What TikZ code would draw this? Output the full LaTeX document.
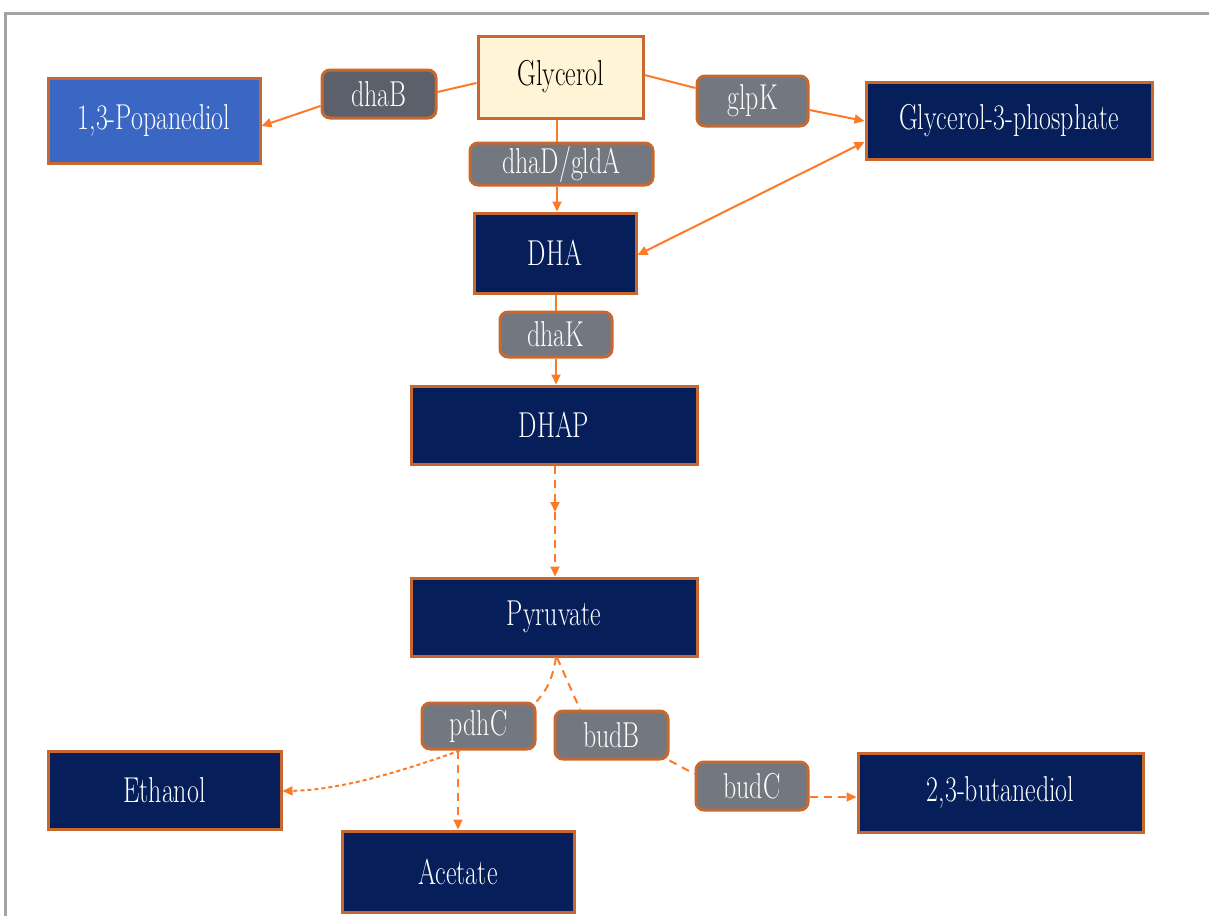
\documentclass[tikz,border=0pt]{standalone}
\usepackage{graphicx}
\usetikzlibrary{arrows.meta}
\definecolor{navybox}{HTML}{061F5B}
\definecolor{bluebox}{HTML}{3A67C4}
\definecolor{creambox}{HTML}{FFF5D6}
\definecolor{graybox}{HTML}{737880}
\definecolor{darkgraybox}{HTML}{5B606B}
\definecolor{boxedge}{HTML}{C8682E}
\definecolor{flow}{HTML}{FF7A26}
\definecolor{frameg}{HTML}{A4A4A4}
\newcommand{\sq}[1]{\scalebox{0.72}[1]{#1}}
\tikzset{
  base/.style={draw=boxedge, line width=1.5pt, inner sep=0pt, font=\fontsize{18}{21}\selectfont, text=white},
  navy/.style={base, fill=navybox},
  bluen/.style={base, fill=bluebox},
  cream/.style={base, fill=creambox, text=black},
  enz/.style={base, fill=graybox, rounded corners=4pt},
  denz/.style={base, fill=darkgraybox, rounded corners=4pt},
  flowline/.style={draw=flow, line width=1pt},
  tip/.style={-{Triangle[length=5pt,width=4.5pt]}},
  dflow/.style={flowline, dash pattern=on 4pt off 3pt},
  dotflow/.style={flowline, dash pattern=on 2pt off 1.5pt},
}
\begin{document}
\begin{tikzpicture}[x=0.5pt,y=-0.5pt]
\useasboundingbox (0,0) rectangle (1209,916);
\draw[frameg, line width=1.5pt] (5,916) -- (5,13) -- (1209,13);
% nodes
\node[cream, minimum width=82.5pt, minimum height=41pt] (gly) at (560.5,77) {\sq{Glycerol}};
\node[denz, minimum width=57pt, minimum height=24pt] (dhaB) at (379,94) {\sq{dhaB}};
\node[bluen, minimum width=106pt, minimum height=42.5pt] (pop) at (154,120.5) {\sq{1,3-Popanediol}};
\node[enz, minimum width=55.5pt, minimum height=25pt] (glpK) at (752.5,101) {\sq{glpK}};
\node[navy, minimum width=143pt, minimum height=38.5pt] (g3p) at (1009,120.5) {\sq{Glycerol-3-phosphate}};
\node[enz, minimum width=91.5pt, minimum height=21pt] (dhaD) at (561.5,164) {\sq{dhaD/gldA}};
\node[navy, minimum width=81pt, minimum height=40pt] (dha) at (555,253) {\sq{DHA}};
\node[enz, minimum width=56pt, minimum height=22.5pt] (dhaK) at (556,334.5) {\sq{dhaK}};
\node[navy, minimum width=143pt, minimum height=39pt] (dhap) at (554,425) {\sq{DHAP}};
\node[navy, minimum width=143pt, minimum height=39pt] (pyr) at (554,617) {\sq{Pyruvate}};
\node[enz, minimum width=56.5pt, minimum height=23pt] (pdhC) at (478.5,726) {\sq{pdhC}};
\node[enz, minimum width=56.5pt, minimum height=24pt] (budB) at (611.5,735) {\sq{budB}};
\node[enz, minimum width=56pt, minimum height=24pt] (budC) at (752,786) {\sq{budC}};
\node[navy, minimum width=116.5pt, minimum height=39pt] (eth) at (164.5,790) {\sq{Ethanol}};
\node[navy, minimum width=116pt, minimum height=40.5pt] (ace) at (458,871.5) {\sq{Acetate}};
\node[navy, minimum width=142.5pt, minimum height=39.5pt] (but) at (1000.5,792.5) {\sq{2,3-butanediol}};
\coordinate (mid) at (555,512);
% connectors
\draw[flowline] (gly.west |- 0,83) -- (dhaB.east |- 0,92);
\draw[flowline, tip] (dhaB.west |- 0,106) -- (pop.east |- 0,126);
\draw[flowline] (gly.east |- 0,75) -- (glpK.west |- 0,88);
\draw[flowline, tip] (glpK.east |- 0,110) -- (g3p.west |- 0,121);
\draw[flowline, {Triangle[length=5pt,width=4.5pt]}-{Triangle[length=5pt,width=4.5pt]}] (dha.east |- 0,255) -- (g3p.west |- 0,142);
\draw[flowline] (gly.south -| 557,0) -- (dhaD.north -| 557,0);
\draw[flowline, tip] (dhaD.south -| 557,0) -- (dha.north -| 557,0);
\draw[flowline] (dha.south -| 556,0) -- (dhaK.north -| 556,0);
\draw[flowline, tip] (dhaK.south -| 556,0) -- (dhap.north -| 556,0);
\draw[dflow, tip] (dhap.south -| 555,0) -- (mid);
\draw[dflow, tip] (mid) -- (pyr.north -| 555,0);
\draw[dflow] (pyr.south -| 556,0) .. controls (552,682) and (545,692) .. (pdhC.north east);
\draw[dflow] (pyr.south -| 557,0) -- (budB.north -| 580,0);
\draw[dotflow, tip] (pdhC.south -| 460,0) .. controls (400,772) and (340,790) .. (eth.east |- 0,791);
\draw[dflow, tip] (pdhC.south -| 458,0) -- (ace.north -| 458,0);
\draw[dflow] (budB.south east) -- (budC.west |- 0,774);
\draw[dflow, tip] (budC.east |- 0,797) -- (but.west |- 0,797);
\end{tikzpicture}
\end{document}
